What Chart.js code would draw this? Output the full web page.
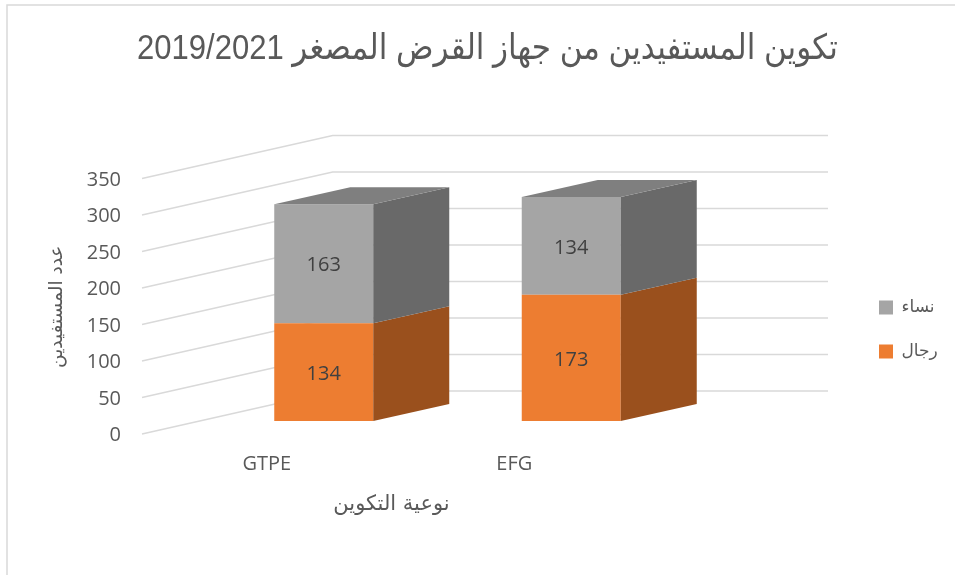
<!DOCTYPE html>
<html lang="ar">
<head>
<meta charset="utf-8">
<title>chart</title>
<script src="https://cdn.jsdelivr.net/npm/chart.js@4"></script>
<style>
    html, body { margin: 0; padding: 0; background: #fff; }
    canvas { display: block; }
</style>
</head>
<body>
<canvas id="myChart" width="955" height="575" dir="rtl"></canvas>
<script>
const categories = ['GTPE', 'EFG'];
const menValues = [134, 173];
const womenValues = [163, 134];
const seriesNames = ['رجال', 'نساء'];
const yTicks = [0, 50, 100, 150, 200, 250, 300, 350];

const chartTitle = 'تكوين المستفيدين من جهاز القرض المصغر 2019/2021';
const xTitle = 'نوعية التكوين';
const yTitle = 'عدد المستفيدين';

const textColor = '#595959';
const gridColor = '#d9d9d9';
const numberFont = '"Open Sans", sans-serif';

// depth of the fake 3D boxes
const depthX = 76;
const depthY = -17;

function polygon(ctx, points, color) {
    ctx.fillStyle = color;
    ctx.beginPath();
    points.forEach((p, i) => i ? ctx.lineTo(p[0], p[1]) : ctx.moveTo(p[0], p[1]));
    ctx.closePath();
    ctx.fill();
}

const box3d = {
    id: 'box3d',
    afterLayout(chart) {
        // legend sits right of the plot, titles are not centred on the plot
        const legend = chart.legend;
        legend.left = 852;
        legend.right = 955;
        legend.top = 272;
        legend.bottom = 575;
        chart.titleBlock.left = 137;
        chart.titleBlock.right = 838;
        chart.scales.y.bottom += 27;
        chart.scales.x.left -= 56;
        chart.scales.x.right -= 56;
    },
    beforeDraw(chart) {
        // frame of the pasted picture
        const ctx = chart.ctx;
        ctx.save();
        ctx.strokeStyle = gridColor;
        ctx.lineWidth = 1.5;
        ctx.beginPath();
        ctx.moveTo(7, 575);
        ctx.lineTo(7, 5);
        ctx.lineTo(955, 5);
        ctx.stroke();
        ctx.restore();
    },
    beforeDatasetsDraw(chart) {
        // side wall and back wall grid lines
        const ctx = chart.ctx;
        const yScale = chart.scales.y;
        ctx.save();
        ctx.strokeStyle = gridColor;
        ctx.lineWidth = 1.5;
        yTicks.forEach(t => {
            const py = yScale.getPixelForValue(t);
            ctx.beginPath();
            ctx.moveTo(142, py + 13);
            ctx.lineTo(332.7, py - 30);
            ctx.lineTo(828, py - 30);
            ctx.stroke();
        });
        ctx.restore();
    },
    afterDatasetsDraw(chart) {
        const ctx = chart.ctx;
        const sideColors = ['#9a501d', '#696969'];
        ctx.save();
        chart.data.datasets.forEach((ds, i) => {
            chart.getDatasetMeta(i).data.forEach((bar, j) => {
                const right = bar.x + bar.width / 2;
                const left = bar.x - bar.width / 2;
                polygon(ctx, [
                    [right, bar.y], [right + depthX, bar.y + depthY],
                    [right + depthX, bar.base + depthY], [right, bar.base]
                ], sideColors[i]);
                if (i === chart.data.datasets.length - 1) {
                    polygon(ctx, [
                        [left, bar.y], [left + depthX, bar.y + depthY],
                        [right + depthX, bar.y + depthY], [right, bar.y]
                    ], '#7f7f7f');
                }
                // value label in the middle of the front face
                ctx.fillStyle = '#404040';
                ctx.font = '20px ' + numberFont;
                ctx.textAlign = 'center';
                ctx.textBaseline = 'middle';
                ctx.fillText(ds.data[j], bar.x, (bar.y + bar.base) / 2 + 2);
            });
        });
        ctx.restore();
    }
};

const ctx = document.getElementById('myChart').getContext('2d');
const myChart = new Chart(ctx, {
    type: 'bar',
    data: {
        labels: categories,
        datasets: [
            { label: seriesNames[0], data: menValues, backgroundColor: '#ed7d31' },
            { label: seriesNames[1], data: womenValues, backgroundColor: '#a5a5a5' }
        ]
    },
    plugins: [box3d],
    options: {
        responsive: false,
        animation: false,
        categoryPercentage: 1,
        barPercentage: 0.4,
        layout: { padding: { left: 0, right: 260, top: 0, bottom: 58 } },
        scales: {
            x: {
                stacked: true,
                afterFit(scale) { scale.height = 96; },
                grid: { display: false },
                border: { display: false },
                ticks: {
                    color: textColor,
                    labelOffset: -57,
                    padding: 23,
                    maxRotation: 0,
                    font: { family: numberFont, size: 20 }
                },
                title: {
                    display: true,
                    text: xTitle,
                    color: textColor,
                    padding: 0,
                    font: { family: '"DejaVu Sans", sans-serif', size: 21 }
                }
            },
            y: {
                stacked: true,
                min: 0,
                max: 350,
                afterFit(scale) { scale.width = 200; },
                grid: { display: false, drawTicks: false },
                border: { display: false },
                ticks: {
                    color: textColor,
                    stepSize: 50,
                    labelOffset: 14.5,
                    padding: 79,
                    font: { family: numberFont, size: 20 }
                },
                title: {
                    display: true,
                    text: yTitle,
                    color: textColor,
                    padding: { top: 46, bottom: 0 },
                    font: { family: '"DejaVu Sans", sans-serif', size: 18.5 }
                }
            }
        },
        plugins: {
            tooltip: { enabled: false },
            title: {
                display: true,
                text: chartTitle,
                color: textColor,
                padding: { top: 28.5, bottom: 95 },
                font: { family: '"Liberation Sans", "DejaVu Sans", sans-serif', size: 35, weight: 'normal' }
            },
            legend: {
                position: 'chartArea',
                align: 'start',
                reverse: true,
                labels: {
                    color: textColor,
                    boxWidth: 14,
                    boxHeight: 14,
                    padding: 27,
                    font: { family: '"DejaVu Sans", sans-serif', size: 17 }
                }
            }
        }
    }
});
</script>
</body>
</html>
